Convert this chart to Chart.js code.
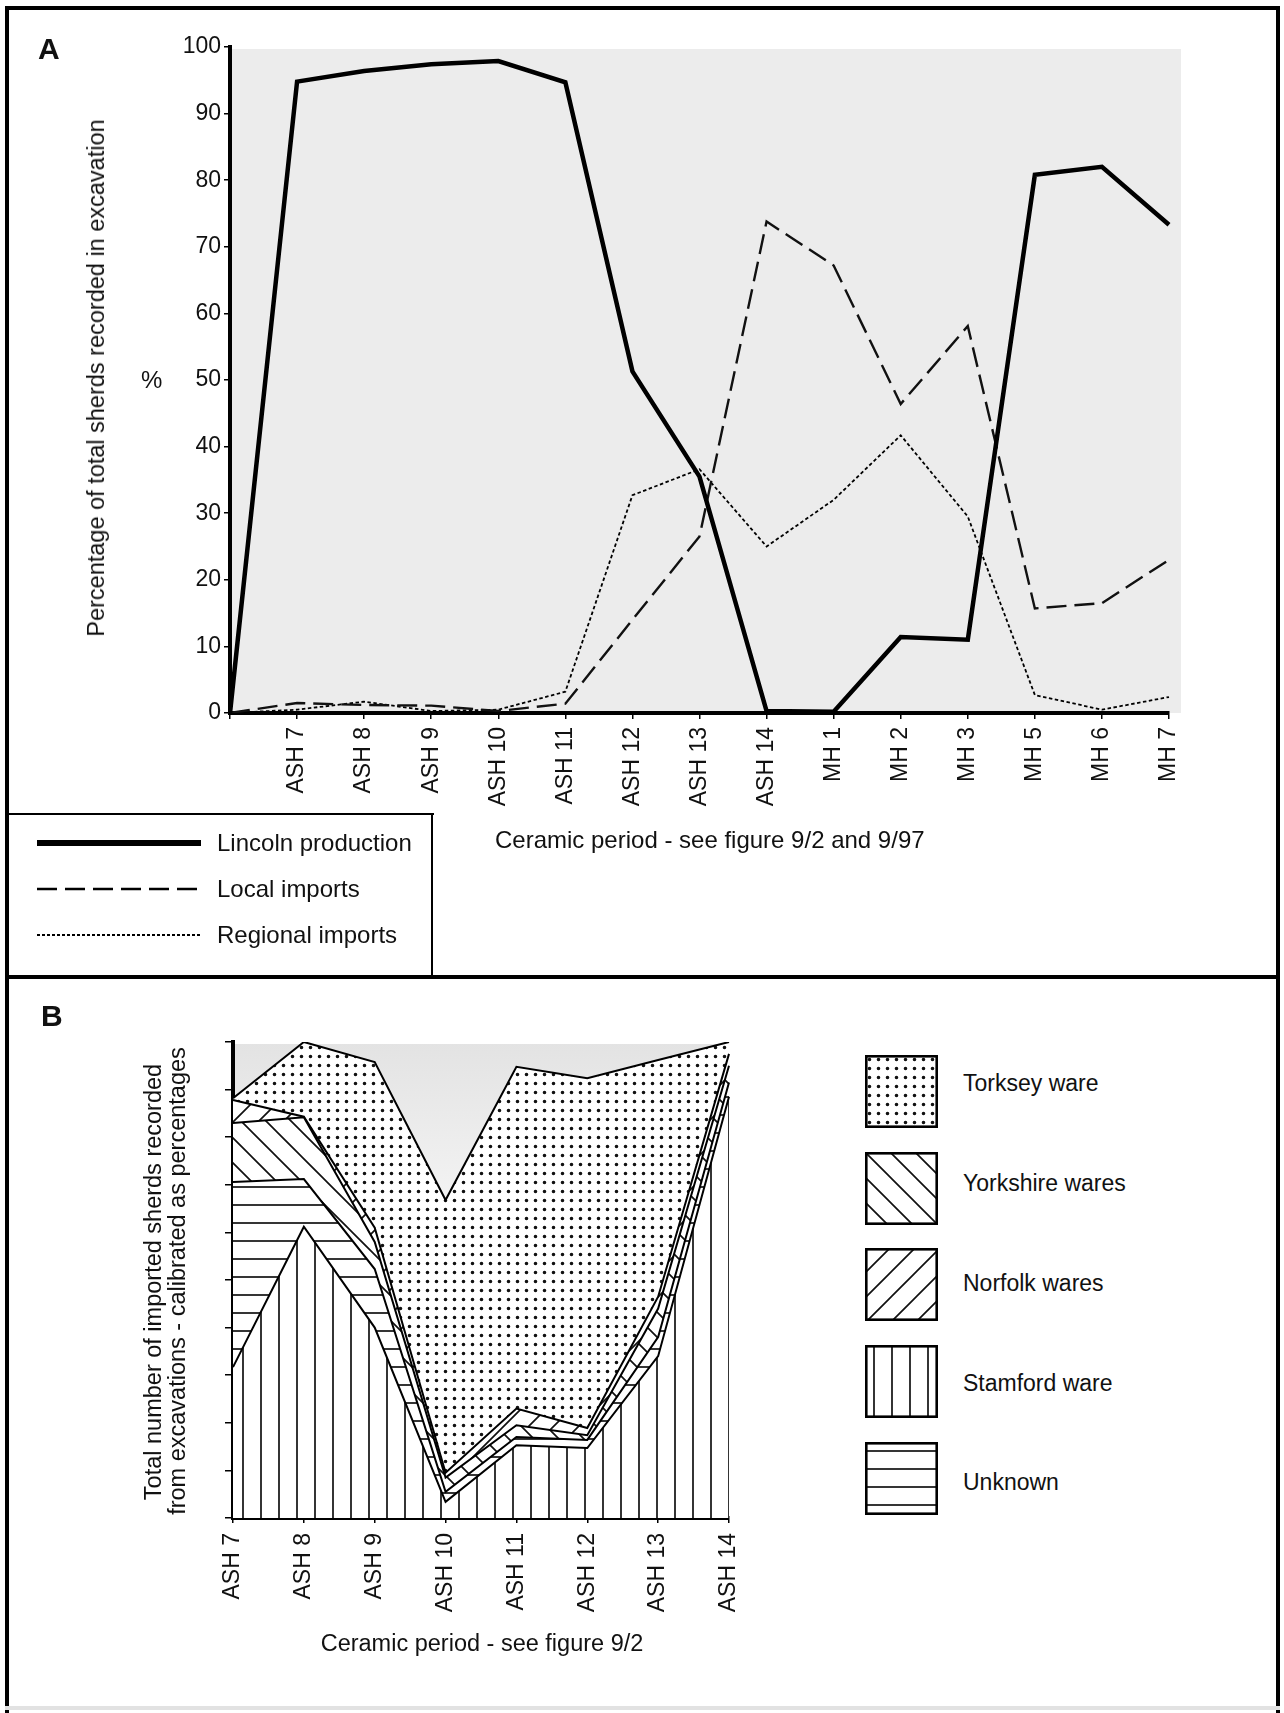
<!DOCTYPE html>
<html lang="en">
<head>
<meta charset="UTF-8">
<title>Lincoln pottery: production and imports</title>
<style>
  body { margin: 0; background: #fff; font-family: "Liberation Sans", Arial, Helvetica, sans-serif; color: #111; }
  #page { position: relative; width: 1284px; height: 1713px; overflow: hidden; background: #fff; }
  .bar { position: absolute; background: #000; }
  .txt { position: absolute; white-space: nowrap; font-size: 24px; line-height: 24px; }
  .rot { transform: translate(-50%, -50%) rotate(-90deg); }
  .ctr { transform: translate(-50%, 0); }
  .panel { position: absolute; font-weight: bold; font-size: 30px; line-height: 30px; }
  canvas { position: absolute; }
</style>
<script src="https://cdn.jsdelivr.net/npm/chart.js"></script>
</head>
<body>
<div id="page">
  <!-- frame -->
  <div class="bar" style="left:5px; top:6px; width:1275px; height:4px;"></div>
  <div class="bar" style="left:5px; top:6px; width:4px; height:1707px;"></div>
  <div class="bar" style="left:1276px; top:6px; width:4px; height:1707px;"></div>
  <div class="bar" style="left:5px; top:975px; width:1275px; height:4px;"></div>
  <div class="bar" style="left:5px; top:1706px; width:1275px; height:4px; background:#e2e2e2;"></div>

  <!-- panel A -->
  <canvas id="chartA" width="1284" height="975" style="left:0; top:0;"></canvas>
  <div class="panel" style="left:38px; top:34px;">A</div>
  <div class="txt rot" style="left:96px; top:378px; font-size:23.5px;">Percentage of total sherds recorded in excavation</div>
  <div class="txt" style="left:141px; top:368px;">%</div>
  <div class="txt" style="left:495px; top:828px;">Ceramic period - see figure 9/2 and 9/97</div>

  <!-- legend A -->
  <div class="bar" style="left:5px; top:813px; width:429px; height:2px;"></div>
  <div class="bar" style="left:431px; top:813px; width:2px; height:164px;"></div>
  <canvas id="legLincoln" width="166" height="12" style="left:36px; top:837px;"></canvas>
  <canvas id="legLocal" width="166" height="12" style="left:36px; top:883px;"></canvas>
  <canvas id="legRegional" width="166" height="12" style="left:36px; top:929px;"></canvas>
  <div class="txt" style="left:217px; top:831px;">Lincoln production</div>
  <div class="txt" style="left:217px; top:877px;">Local imports</div>
  <div class="txt" style="left:217px; top:923px;">Regional imports</div>

  <!-- panel B -->
  <canvas id="chartB" width="790" height="720" style="left:0; top:980px;"></canvas>
  <div class="panel" style="left:41px; top:1001px;">B</div>
  <div class="txt rot" style="left:153px; top:1282px; font-size:23.5px;">Total number of imported sherds recorded</div>
  <div class="txt rot" style="left:177px; top:1281px; font-size:23.5px;">from excavations - calibrated as percentages</div>
  <div class="txt ctr" style="left:482px; top:1631px; font-size:23.5px;">Ceramic period - see figure 9/2</div>

  <!-- legend B -->
  <canvas id="swTorksey" width="73" height="73" style="left:865px; top:1055px;"></canvas>
  <canvas id="swYorkshire" width="73" height="73" style="left:865px; top:1152px;"></canvas>
  <canvas id="swNorfolk" width="73" height="73" style="left:865px; top:1248px;"></canvas>
  <canvas id="swStamford" width="73" height="73" style="left:865px; top:1345px;"></canvas>
  <canvas id="swUnknown" width="73" height="73" style="left:865px; top:1442px;"></canvas>
  <div class="txt" style="left:963px; top:1071px; font-size:23px;">Torksey ware</div>
  <div class="txt" style="left:963px; top:1171px; font-size:23px;">Yorkshire wares</div>
  <div class="txt" style="left:963px; top:1271px; font-size:23px;">Norfolk wares</div>
  <div class="txt" style="left:963px; top:1371px; font-size:23px;">Stamford ware</div>
  <div class="txt" style="left:963px; top:1470px; font-size:23px;">Unknown</div>
</div>

<script>
    const FONT = '"Liberation Sans", Arial, Helvetica, sans-serif';

    // Panel A: share of sherds per ceramic period (first slot is the unlabelled origin)
    const periodsA = ['', 'ASH 7', 'ASH 8', 'ASH 9', 'ASH 10', 'ASH 11', 'ASH 12', 'ASH 13', 'ASH 14',
                      'MH 1', 'MH 2', 'MH 3', 'MH 5', 'MH 6', 'MH 7'];
    const lincolnProduction = [0, 94.8, 96.4, 97.4, 97.9, 94.7, 51.3, 35.5, 0.3, 0.2, 11.4, 11.0, 80.8, 82.0, 73.3];
    const localImports      = [0, 1.5, 1.2, 1.1, 0.3, 1.4, 14.0, 26.5, 73.8, 67.2, 46.4, 58.1, 15.7, 16.5, 23.0];
    const regionalImports   = [0, 0.5, 1.7, 0.3, 0.5, 3.2, 32.7, 36.6, 25.0, 32.0, 41.7, 29.5, 2.7, 0.5, 2.4];

    // Panel B: imported sherds, stacked to 100 (bottom layer first)
    const periodsB  = ['ASH 7', 'ASH 8', 'ASH 9', 'ASH 10', 'ASH 11', 'ASH 12', 'ASH 13', 'ASH 14'];
    const stamford  = [31.7, 61.2, 40.0, 3.4, 15.3, 14.7, 34.0, 88.5];
    const unknown   = [38.9, 10.0, 12.3, 2.1, 1.7, 1.7, 4.0, 3.0];
    const yorkshire = [12.4, 13.0, 5.7, 3.0, 2.5, 1.0, 6.0, 3.5];
    const norfolk   = [4.8, 0.1, 3.0, 1.0, 3.5, 1.5, 2.5, 2.5];
    const torksey   = [0.4, 15.7, 34.8, 57.3, 71.8, 73.5, 49.7, 2.5];

    // hatch / dot fills
    function makePattern(ctx, kind) {
        const s = { dots: 9, vert: 18, horiz: 18, back: 25, fwd: 25 }[kind];
        const c = document.createElement('canvas');
        c.width = s; c.height = s;
        const g = c.getContext('2d');
        g.fillStyle = '#fff';
        g.fillRect(0, 0, s, s);
        g.strokeStyle = '#111';
        g.lineWidth = 1.7;
        g.beginPath();
        if (kind === 'dots') {
            g.fillStyle = '#333';
            g.arc(4.5, 4.5, 0.95, 0, Math.PI * 2);
            g.fill();
        } else if (kind === 'vert') {
            g.moveTo(9, 0); g.lineTo(9, s);
        } else if (kind === 'horiz') {
            g.moveTo(0, 9); g.lineTo(s, 9);
        } else if (kind === 'back') {
            for (const k of [-s, 0, s]) { g.moveTo(-2, -2 + k); g.lineTo(s + 2, s + 2 + k); }
        } else {
            for (const k of [-s, 0, s]) { g.moveTo(-2, s + 2 + k); g.lineTo(s + 2, -2 + k); }
        }
        g.stroke();
        return ctx.createPattern(c, 'repeat');
    }

    // grey plot background
    function backdrop(colorFn, extraRight) {
        return {
            id: 'backdrop',
            beforeDraw(chart) {
                const a = chart.chartArea, ctx = chart.ctx;
                ctx.save();
                ctx.fillStyle = colorFn(ctx, a);
                ctx.fillRect(a.left, a.top + 2, a.right - a.left + extraRight, a.bottom - a.top - 2);
                ctx.restore();
            }
        };
    }

    const tickFont = { family: FONT, size: 23 };

    // ---------- Panel A ----------
    new Chart(document.getElementById('chartA'), {
        type: 'line',
        data: {
            labels: periodsA,
            datasets: [
                { label: 'Lincoln production', data: lincolnProduction, borderColor: '#000', borderWidth: 4.5 },
                { label: 'Local imports', data: localImports, borderColor: '#111', borderWidth: 2.4, borderDash: [20, 8] },
                { label: 'Regional imports', data: regionalImports, borderColor: '#000', borderWidth: 1.8, borderDash: [3.5, 2.5] }
            ]
        },
        options: {
            responsive: false,
            animation: false,
            devicePixelRatio: 1,
            elements: { point: { radius: 0 }, line: { tension: 0, fill: false } },
            layout: { padding: { left: 0, right: 115, top: 47, bottom: 0 } },
            plugins: { legend: { display: false }, tooltip: { enabled: false } },
            scales: {
                x: {
                    offset: false,
                    grid: { drawOnChartArea: false, drawTicks: true, tickLength: 6, color: '#000', lineWidth: 1.5 },
                    border: { display: true, color: '#000', width: 4 },
                    ticks: { autoSkip: false, minRotation: 90, maxRotation: 90, padding: 8, font: tickFont, color: '#111' },
                    afterFit: s => { s.height = 975 - 713; }
                },
                y: {
                    min: 0, max: 100,
                    grid: { drawOnChartArea: false, drawTicks: true, tickLength: 6, color: '#000', lineWidth: 1.5 },
                    border: { display: true, color: '#000', width: 4 },
                    ticks: { stepSize: 10, padding: 3, font: tickFont, color: '#111' },
                    afterFit: s => { s.width = 230; }
                }
            }
        },
        plugins: [backdrop(() => '#ececec', 12)]
    });

    // ---------- Panel B ----------
    const ctxB = document.getElementById('chartB').getContext('2d');
    const fills = {
        torksey: makePattern(ctxB, 'dots'),
        yorkshire: makePattern(ctxB, 'back'),
        norfolk: makePattern(ctxB, 'fwd'),
        stamford: makePattern(ctxB, 'vert'),
        unknown: makePattern(ctxB, 'horiz')
    };

    new Chart(ctxB, {
        type: 'line',
        data: {
            labels: periodsB,
            datasets: [
                { label: 'Stamford ware', data: stamford, backgroundColor: fills.stamford, fill: 'origin' },
                { label: 'Unknown', data: unknown, backgroundColor: fills.unknown, fill: '-1' },
                { label: 'Yorkshire wares', data: yorkshire, backgroundColor: fills.yorkshire, fill: '-1' },
                { label: 'Norfolk wares', data: norfolk, backgroundColor: fills.norfolk, fill: '-1' },
                { label: 'Torksey ware', data: torksey, backgroundColor: fills.torksey, fill: '-1' }
            ]
        },
        options: {
            responsive: false,
            animation: false,
            devicePixelRatio: 1,
            elements: { point: { radius: 0 }, line: { tension: 0, borderColor: '#000', borderWidth: 2 } },
            layout: { padding: { left: 0, right: 61, top: 62, bottom: 0 } },
            plugins: { legend: { display: false }, tooltip: { enabled: false }, filler: { propagate: false } },
            scales: {
                x: {
                    offset: false,
                    grid: { drawOnChartArea: false, drawTicks: true, tickLength: 5, color: '#000', lineWidth: 1.5 },
                    border: { display: true, color: '#000', width: 4 },
                    ticks: { autoSkip: false, minRotation: 90, maxRotation: 90, padding: 10, font: tickFont, color: '#111' },
                    afterFit: s => { s.height = 720 - 538; }
                },
                y: {
                    stacked: true,
                    min: 0, max: 100,
                    grid: { drawOnChartArea: false, drawTicks: true, tickLength: 8, color: '#000', lineWidth: 1.5 },
                    border: { display: true, color: '#000', width: 4 },
                    ticks: { stepSize: 10, callback: () => '' },
                    afterFit: s => { s.width = 233; }
                }
            }
        },
        plugins: [backdrop((ctx, a) => {
            const grd = ctx.createLinearGradient(0, a.top, 0, a.top + 180);
            grd.addColorStop(0, '#e3e3e3');
            grd.addColorStop(1, '#f5f5f5');
            return grd;
        }, 0)]
    });

    // ---------- legend samples ----------
    function legendLine(id, width, dash) {
        const g = document.getElementById(id).getContext('2d');
        g.strokeStyle = '#000';
        g.lineWidth = width;
        g.setLineDash(dash);
        g.beginPath();
        g.moveTo(1, 6); g.lineTo(165, 6);
        g.stroke();
    }
    legendLine('legLincoln', 6, []);
    legendLine('legLocal', 2.4, [20, 8]);
    legendLine('legRegional', 2, [3, 2]);

    function swatch(id, kind) {
        const g = document.getElementById(id).getContext('2d');
        g.fillStyle = makePattern(g, kind);
        g.fillRect(0, 0, 73, 73);
        g.strokeStyle = '#000';
        g.lineWidth = 2.6;
        g.strokeRect(1.3, 1.3, 70.4, 70.4);
    }
    swatch('swTorksey', 'dots');
    swatch('swYorkshire', 'back');
    swatch('swNorfolk', 'fwd');
    swatch('swStamford', 'vert');
    swatch('swUnknown', 'horiz');
</script>
</body>
</html>
